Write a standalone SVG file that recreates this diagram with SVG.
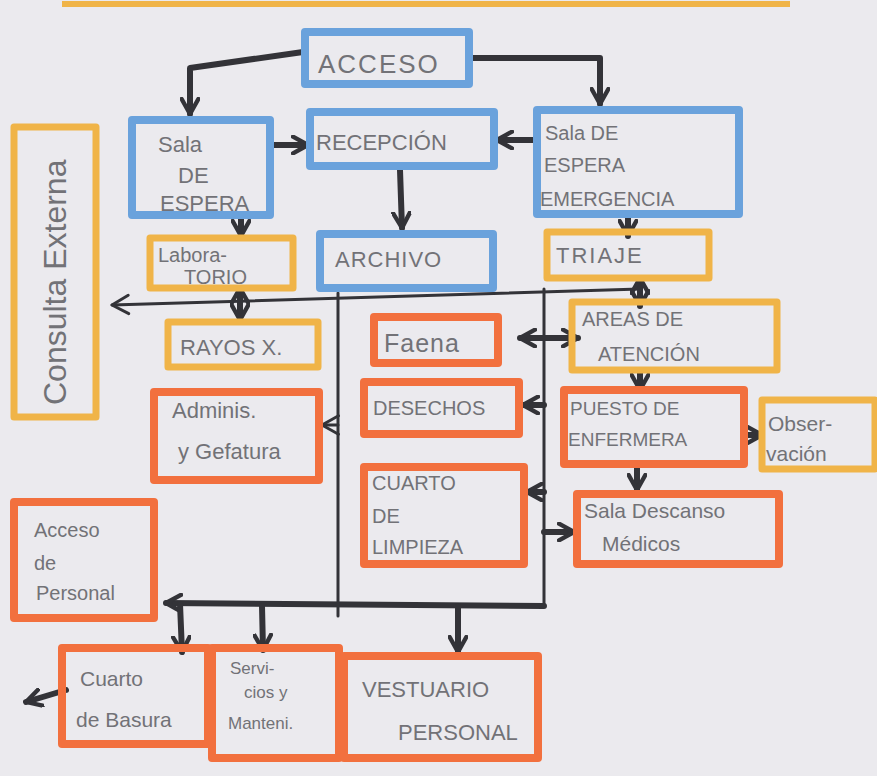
<svg xmlns="http://www.w3.org/2000/svg" width="877" height="776" viewBox="0 0 877 776">
<defs>
<style>
.b{fill:none;stroke:#6aa2dc;stroke-width:8;stroke-linejoin:round;stroke-linecap:round}
.y{fill:none;stroke:#f0b448;stroke-width:7;stroke-linejoin:round;stroke-linecap:round}
.r{fill:none;stroke:#f2703e;stroke-width:8;stroke-linejoin:round;stroke-linecap:round}
.t{font-family:"Liberation Sans",Arial,sans-serif;fill:#727277;font-weight:normal}
.c path,.c line,.c polyline{fill:none;stroke:#333338;stroke-width:6;stroke-linecap:round;stroke-linejoin:round}
.c .th{stroke-width:3}
</style>
<marker id="ah" viewBox="0 0 12 12" refX="10" refY="6" markerWidth="20" markerHeight="20" markerUnits="userSpaceOnUse" orient="auto-start-reverse">
<path d="M1,1 L10,6 L1,11" fill="none" stroke="#333338" stroke-width="2.6" stroke-linecap="round" stroke-linejoin="round"/>
</marker>
<marker id="ahs" viewBox="0 0 12 12" refX="10" refY="6" markerWidth="22" markerHeight="22" markerUnits="userSpaceOnUse" orient="auto-start-reverse">
<path d="M1,1 L10,6 L1,11" fill="none" stroke="#333338" stroke-width="1.6" stroke-linecap="round" stroke-linejoin="round"/>
</marker>
</defs>
<rect width="877" height="776" fill="#ebeaee"/>
<line x1="62" y1="4" x2="790" y2="4" stroke="#f0b448" stroke-width="6"/>

<g class="c" id="connectors">
<polyline points="303,52 190,68 190,114" marker-end="url(#ah)"/>
<polyline points="470,58 600,58 600,104" marker-end="url(#ah)"/>
<line x1="270" y1="145" x2="308" y2="145" marker-end="url(#ah)"/>
<line x1="535" y1="140" x2="497" y2="140" marker-end="url(#ah)"/>
<line x1="400" y1="170" x2="402" y2="228" marker-end="url(#ah)"/>
<line x1="241" y1="215" x2="241" y2="236" marker-end="url(#ah)"/>
<line x1="628" y1="215" x2="628" y2="236" marker-end="url(#ah)"/>
<line x1="640" y1="289" x2="112" y2="305" class="th" marker-end="url(#ahs)"/>
<line x1="338" y1="293" x2="338" y2="616" class="th"/>
<line x1="544" y1="289" x2="544" y2="606" class="th"/>
<line x1="544" y1="606" x2="166" y2="603" marker-end="url(#ah)"/>
<line x1="240" y1="288" x2="240" y2="320" marker-start="url(#ah)" marker-end="url(#ah)"/>
<line x1="640" y1="278" x2="640" y2="306" marker-start="url(#ah)" marker-end="url(#ah)"/>
<line x1="520" y1="338" x2="578" y2="338" marker-start="url(#ah)" marker-end="url(#ah)"/>
<line x1="544" y1="405" x2="523" y2="405" marker-end="url(#ah)"/>
<line x1="338" y1="425" x2="322" y2="425" class="th" marker-end="url(#ahs)"/>
<line x1="544" y1="492" x2="527" y2="492" marker-end="url(#ah)"/>
<line x1="544" y1="532" x2="574" y2="532" marker-end="url(#ah)"/>
<line x1="640" y1="372" x2="640" y2="390" marker-end="url(#ah)"/>
<line x1="745" y1="435" x2="762" y2="435" marker-end="url(#ah)"/>
<line x1="637" y1="465" x2="637" y2="490" marker-end="url(#ah)"/>
<line x1="180" y1="604" x2="182" y2="652" marker-end="url(#ah)"/>
<line x1="262" y1="606" x2="263" y2="650" marker-end="url(#ah)"/>
<line x1="458" y1="606" x2="458" y2="652" marker-end="url(#ah)"/>
<line x1="66" y1="690" x2="26" y2="702" marker-end="url(#ah)"/>
</g>

<g id="acceso"><rect class="b" x="305" y="32" width="164" height="52"/><text class="t" x="318" y="73" font-size="26" letter-spacing="2">ACCESO</text></g>
<g id="sala-espera"><rect class="b" x="132" y="120" width="138" height="95"/><text class="t" font-size="22"><tspan x="158" y="152">Sala</tspan><tspan x="178" y="183">DE</tspan><tspan x="160" y="211">ESPERA</tspan></text></g>
<g id="recepcion"><rect class="b" x="310" y="112" width="184" height="54"/><text class="t" x="316" y="150" font-size="22">RECEPCIÓN</text></g>
<g id="sala-emergencia"><rect class="b" x="537" y="110" width="202" height="104"/><text class="t" font-size="20"><tspan x="545" y="140">Sala DE</tspan><tspan x="544" y="172">ESPERA</tspan><tspan x="540" y="206">EMERGENCIA</tspan></text></g>
<g id="consulta-externa"><rect class="y" x="14" y="127" width="82" height="290"/><text class="t" font-size="32" transform="translate(66,405) rotate(-90)">Consulta Externa</text></g>
<g id="laboratorio"><rect class="y" x="150" y="238" width="143" height="50"/><text class="t" font-size="20"><tspan x="158" y="262">Labora-</tspan><tspan x="184" y="284">TORIO</tspan></text></g>
<g id="archivo"><rect class="b" x="320" y="234" width="173" height="54"/><text class="t" x="335" y="267" font-size="22" letter-spacing="1">ARCHIVO</text></g>
<g id="triaje"><rect class="y" x="547" y="232" width="162" height="46"/><text class="t" x="556" y="263" font-size="22" letter-spacing="2">TRIAJE</text></g>
<g id="rayos-x"><rect class="y" x="168" y="322" width="150" height="45"/><text class="t" x="180" y="355" font-size="22">RAYOS X.</text></g>
<g id="faena"><rect class="r" x="374" y="317" width="124" height="46"/><text class="t" x="384" y="352" font-size="25" letter-spacing="1">Faena</text></g>
<g id="areas-atencion"><rect class="y" x="572" y="302" width="205" height="68"/><text class="t" font-size="20"><tspan x="582" y="326">AREAS DE</tspan><tspan x="598" y="361">ATENCIÓN</tspan></text></g>
<g id="adminis"><rect class="r" x="154" y="392" width="165" height="88"/><text class="t" font-size="22"><tspan x="172" y="418">Adminis.</tspan><tspan x="178" y="459">y Gefatura</tspan></text></g>
<g id="desechos"><rect class="r" x="364" y="382" width="155" height="52"/><text class="t" x="373" y="415" font-size="20">DESECHOS</text></g>
<g id="puesto-enfermera"><rect class="r" x="564" y="390" width="180" height="74"/><text class="t" font-size="19"><tspan x="570" y="415">PUESTO DE</tspan><tspan x="568" y="446">ENFERMERA</tspan></text></g>
<g id="observacion"><rect class="y" x="762" y="400" width="113" height="69"/><text class="t" font-size="21"><tspan x="768" y="431">Obser-</tspan><tspan x="766" y="461">vación</tspan></text></g>
<g id="cuarto-limpieza"><rect class="r" x="364" y="467" width="160" height="97"/><text class="t" font-size="20"><tspan x="372" y="490">CUARTO</tspan><tspan x="372" y="523">DE</tspan><tspan x="372" y="554">LIMPIEZA</tspan></text></g>
<g id="sala-descanso"><rect class="r" x="577" y="494" width="202" height="70"/><text class="t" font-size="21"><tspan x="584" y="518">Sala Descanso</tspan><tspan x="602" y="551">Médicos</tspan></text></g>
<g id="acceso-personal"><rect class="r" x="14" y="502" width="140" height="116"/><text class="t" font-size="20"><tspan x="34" y="537">Acceso</tspan><tspan x="34" y="570">de</tspan><tspan x="36" y="600">Personal</tspan></text></g>
<g id="cuarto-basura"><rect class="r" x="62" y="648" width="146" height="96"/><text class="t" font-size="21"><tspan x="80" y="686">Cuarto</tspan><tspan x="76" y="727">de Basura</tspan></text></g>
<g id="servicios"><rect class="r" x="212" y="648" width="127" height="110"/><text class="t" font-size="17"><tspan x="230" y="674">Servi-</tspan><tspan x="244" y="698">cios y</tspan><tspan x="228" y="729">Manteni.</tspan></text></g>
<g id="vestuario"><rect class="r" x="344" y="656" width="194" height="102"/><text class="t" font-size="22"><tspan x="362" y="697">VESTUARIO</tspan><tspan x="398" y="740">PERSONAL</tspan></text></g>
</svg>
